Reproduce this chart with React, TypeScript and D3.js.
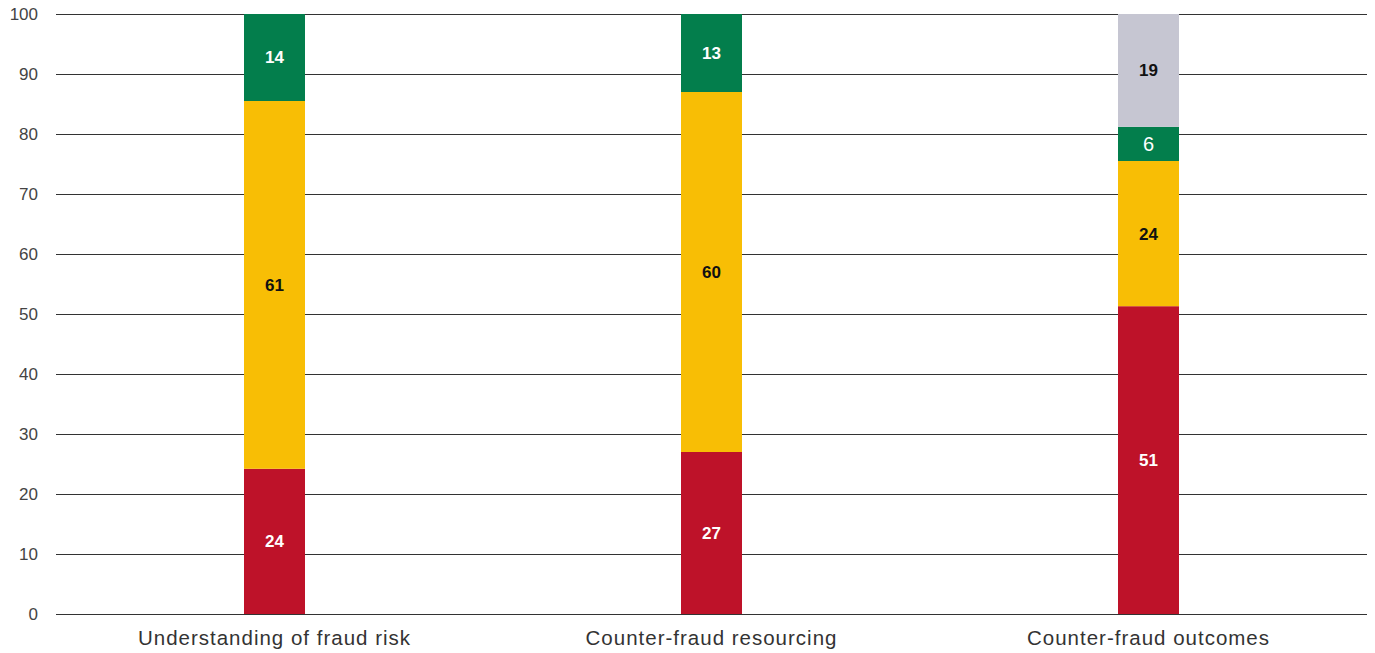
import React from "react";
import * as d3 from "d3";

const categories = ["Understanding of fraud risk", "Counter-fraud resourcing", "Counter-fraud outcomes"];
const seriesNames = ["Red", "Amber", "Green", "Grey"];
const redValues = [24.2, 27, 51.3];
const amberValues = [61.3, 60, 24.2];
const greenValues = [14.5, 13, 5.7];
const greyValues = [0, 0, 18.8];
const redLabels = ["24", "27", "51"];
const amberLabels = ["61", "60", "24"];
const greenLabels = ["14", "13", "6"];
const greyLabels = ["", "", "19"];
const yTicks = [0, 10, 20, 30, 40, 50, 60, 70, 80, 90, 100];

const colors = ["#BE1229", "#F8BE05", "#037E4C", "#C6C6D2"];
const textColors = ["#ffffff", "#111111", "#ffffff", "#111111"];
const FONT = "'Liberation Sans', Arial, Helvetica, sans-serif";

export default function App() {
  const W = 1375, H = 653;
  const left = 56, right = 1367, top = 14, bottom = 614;
  const x = d3.scaleBand<string>().domain(categories).range([left, right]);
  const y = d3.scaleLinear().domain([0, 100]).range([bottom, top]);
  const barW = 61;

  const rows = categories.map((c, i) => ({
    cat: c,
    Red: redValues[i],
    Amber: amberValues[i],
    Green: greenValues[i],
    Grey: greyValues[i],
  }));
  const labels = [redLabels, amberLabels, greenLabels, greyLabels];
  const stack = d3.stack<any>().keys(seriesNames)(rows);

  return (
    <svg width={W} height={H} style={{ position: "absolute", left: 0, top: 0 }}>
      {yTicks.map((t) => (
        <g key={t}>
          <line x1={left} x2={right} y1={Math.round(y(t)) + 0.5} y2={Math.round(y(t)) + 0.5} stroke="#333" strokeWidth={1} />
          <text x={38} y={y(t)} dy="0.35em" textAnchor="end" fontFamily={FONT} fontSize={17} fill="#444">
            {t}
          </text>
        </g>
      ))}
      {stack.map((s, si) =>
        s.map((d, ci) => {
          const v = d[1] - d[0];
          if (v <= 0) return null;
          const cx = (x(categories[ci]) as number) + x.bandwidth() / 2;
          const y0 = y(d[0]);
          const y1 = y(d[1]);
          const isSix = labels[si][ci] === "6";
          return (
            <g key={`${si}-${ci}`}>
              <rect x={cx - barW / 2} y={y1} width={barW} height={y0 - y1} fill={colors[si]} />
              <text
                x={cx}
                y={(y0 + y1) / 2}
                dy="0.35em"
                textAnchor="middle"
                fontFamily={FONT}
                fontSize={isSix ? 20 : 17}
                fontWeight={isSix ? 400 : 700}
                fill={textColors[si]}
              >
                {labels[si][ci]}
              </text>
            </g>
          );
        })
      )}
      {categories.map((c) => (
        <text
          key={c}
          x={(x(c) as number) + x.bandwidth() / 2}
          y={638}
          dy="0.35em"
          textAnchor="middle"
          fontFamily={FONT}
          fontSize={20.5}
          letterSpacing={1}
          fill="#333"
        >
          {c}
        </text>
      ))}
    </svg>
  );
}
